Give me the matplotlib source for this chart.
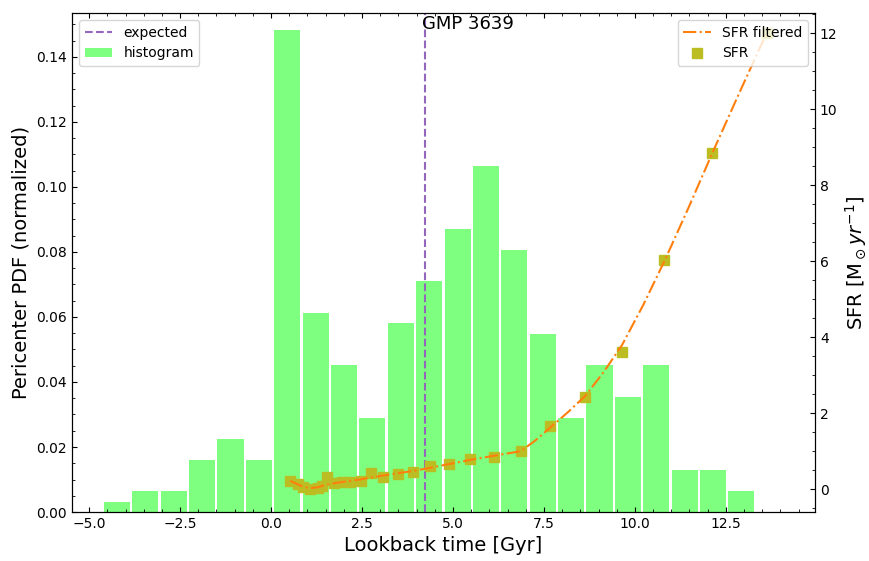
import numpy as np
import matplotlib.pyplot as plt
from matplotlib.ticker import AutoMinorLocator

# histogram of pericenter times (counts per bin, normalized by total)
bin_left = -4.624
bin_width = 0.780
counts = [1, 2, 2, 5, 7, 5, 46, 19, 14, 9, 18, 22, 27, 33, 25, 17, 9, 14, 11, 14, 4, 4, 2]

expected_time = 4.22
galaxy = 'GMP 3639'

# star formation history
sfr_time = [0.53, 0.75, 0.89, 1.08, 1.28, 1.41, 1.55, 1.74, 1.96, 2.18, 2.46, 2.76, 3.09,
            3.48, 3.89, 4.36, 4.88, 5.46, 6.12, 6.86, 7.67, 8.63, 9.65, 10.81, 12.13, 13.62]
sfr = [0.21, 0.13, 0.05, 0.0, 0.03, 0.08, 0.32, 0.16, 0.18, 0.18, 0.21, 0.42, 0.32,
       0.39, 0.45, 0.61, 0.66, 0.79, 0.84, 1.0, 1.66, 2.42, 3.6, 6.03, 8.84, 12.0]

# filtered SFR (finer sampling at late times)
filt_time = [0.53, 0.75, 0.89, 1.08, 1.28, 1.41, 1.55, 1.74, 1.96, 2.18, 2.46, 2.76, 3.09,
             3.48, 3.89, 4.36, 4.88, 5.46, 6.12, 6.86, 7.26, 7.67, 8.15, 8.63, 9.14, 9.65,
             10.23, 10.81, 11.47, 12.13, 12.87, 13.62]
sfr_filtered = [0.22, 0.12, 0.06, 0.03, 0.05, 0.09, 0.12, 0.16, 0.19, 0.22, 0.26, 0.31, 0.36,
                0.42, 0.48, 0.56, 0.66, 0.77, 0.88, 1.0, 1.28, 1.62, 2.02, 2.45, 3.08, 3.8,
                4.85, 6.0, 7.4, 8.85, 10.43, 12.0]

counts = np.array(counts, dtype=float)
pdf = counts / counts.sum()
centers = bin_left + bin_width * (np.arange(len(counts)) + 0.5)

fig = plt.figure(figsize=(8.7, 5.61), dpi=100)
ax = fig.add_axes([0.0828, 0.0873, 0.854, 0.8895])

ax.bar(centers, pdf, width=bin_width * 0.92, color='lime', alpha=0.5, label='histogram')
ax.axvline(expected_time, color='tab:purple', ls='--', lw=1.5, label='expected')
ax.text(expected_time - 0.08, 0.1528, galaxy, ha='left', va='top', fontsize=13)

ax.set_xlim(-5.47, 14.95)
ax.set_ylim(0, 0.1535)
ax.set_xlabel('Lookback time [Gyr]', fontsize=14)
ax.set_ylabel('Pericenter PDF (normalized)', fontsize=14)
ax.xaxis.set_minor_locator(AutoMinorLocator())
ax.yaxis.set_minor_locator(AutoMinorLocator())
ax.tick_params(which='both', direction='in', top=True, right=False, labelsize=10)
ax.legend(loc='upper left', fontsize=10)

ax2 = ax.twinx()
ax2.plot(sfr_time, sfr, 's', color='tab:olive', ms=7, label='SFR', zorder=2)
ax2.plot(filt_time, sfr_filtered, '-.', color='tab:orange', lw=1.5, label='SFR filtered', zorder=3)
ax2.set_ylim(-0.6, 12.53)
ax2.set_ylabel(r'SFR [M$_\odot yr^{-1}$]', fontsize=14)
ax2.yaxis.set_minor_locator(AutoMinorLocator())
ax2.tick_params(which='both', direction='in', labelsize=10)
h, l = ax2.get_legend_handles_labels()
ax2.legend(h[::-1], l[::-1], loc='upper right', fontsize=10)

fig.savefig('out.png', dpi=100)
